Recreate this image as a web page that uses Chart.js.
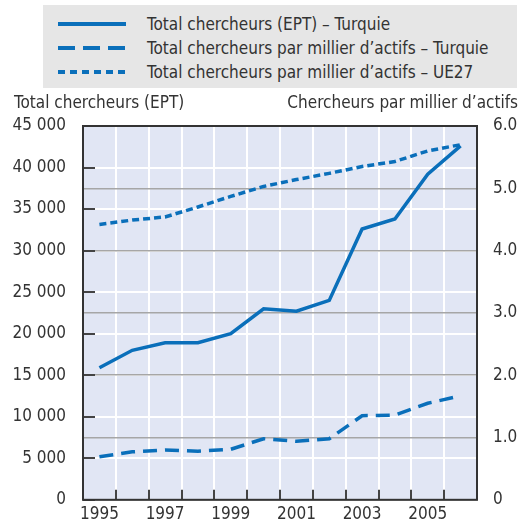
<!DOCTYPE html>
<html>
<head>
<meta charset="utf-8">
<script src="https://cdn.jsdelivr.net/npm/chart.js@4"></script>
<style>
  body { margin: 0; background: #fff; }
  #wrap { position: relative; width: 527px; height: 527px; }
  #legend {
    position: absolute; left: 43px; top: 5px; width: 474px; height: 83px;
    background: #e6e6e6; font-family: 'Liberation Sans Narrow', 'DejaVu Sans Condensed', sans-serif;
    font-size: 17px; color: #333;
  }
  .row { position: absolute; left: 0; height: 24px; line-height: 24px; }
  .row svg { position: absolute; left: 15px; top: 0; }
  .row span { position: absolute; left: 104px; white-space: nowrap; }
</style>
</head>
<body>
<div id="wrap">
  <canvas id="chart" width="527" height="527"></canvas>
  <div id="legend"></div>
</div>
<script>
const years = ["1995", "1996", "1997", "1998", "1999", "2000", "2001", "2002", "2003", "2004", "2005", "2006"];
const totalTurquie = [15900, 18000, 18900, 18900, 20000, 23000, 22700, 24000, 32600, 33800, 39200, 42600];
const parMillierTurquie = [0.69, 0.77, 0.80, 0.78, 0.81, 0.98, 0.94, 0.98, 1.35, 1.36, 1.55, 1.67];
const parMillierUE27 = [4.42, 4.49, 4.54, 4.70, 4.87, 5.03, 5.14, 5.24, 5.35, 5.43, 5.60, 5.70];

const leftTitle = "Total chercheurs (EPT)";
const rightTitle = "Chercheurs par millier d\u2019actifs";

const blue = "#0a6fba";
const font = "'Liberation Sans Narrow', 'DejaVu Sans Condensed', sans-serif";

Chart.defaults.font.family = font;
Chart.defaults.font.size = 17;
Chart.defaults.color = "#333";

function spaced(v) {
  return String(v).replace(/\B(?=(\d{3})+(?!\d))/g, " ");
}

const chartBox = {
  id: "chartBox",
  beforeDraw(chart) {
    const a = chart.chartArea;
    const ctx = chart.ctx;
    ctx.save();
    ctx.fillStyle = "#e1e6f4";
    ctx.fillRect(a.left, a.top, a.right - a.left, a.bottom - a.top);
    ctx.restore();
  },
  afterDraw(chart) {
    const a = chart.chartArea;
    const ctx = chart.ctx;
    const x = chart.scales.x;
    const y = chart.scales.y;
    ctx.save();
    ctx.strokeStyle = "#444";
    ctx.lineWidth = 2;
    // inward ticks on the left axis
    y.ticks.forEach((t, i) => {
      const py = Math.round(y.getPixelForTick(i));
      ctx.beginPath();
      ctx.moveTo(a.left, py);
      ctx.lineTo(a.left + 12, py);
      ctx.stroke();
    });
    // inward ticks on the bottom axis, between the years
    for (let i = 1; i < years.length; i++) {
      const px = Math.round((x.getPixelForTick(i - 1) + x.getPixelForTick(i)) / 2);
      ctx.beginPath();
      ctx.moveTo(px, a.bottom);
      ctx.lineTo(px, a.bottom - 10);
      ctx.stroke();
    }
    ctx.strokeStyle = "#333";
    ctx.strokeRect(a.left, a.top, a.right - a.left, a.bottom - a.top);
    // axis titles
    ctx.fillStyle = "#333";
    ctx.font = "17px " + font;
    ctx.textBaseline = "alphabetic";
    ctx.textAlign = "left";
    ctx.fillText(leftTitle, 14, 108);
    ctx.textAlign = "right";
    ctx.fillText(rightTitle, 518, 108);
    ctx.restore();
  }
};

const chart = new Chart(document.getElementById("chart"), {
  type: "line",
  data: {
    labels: years,
    datasets: [
      { label: "Total chercheurs (EPT) \u2013 Turquie", data: totalTurquie, yAxisID: "y", borderColor: blue, borderWidth: 3.5, pointRadius: 0, dash: [] },
      { label: "Total chercheurs par millier d\u2019actifs \u2013 Turquie", data: parMillierTurquie, yAxisID: "y2", borderColor: blue, borderWidth: 3.5, pointRadius: 0, borderDash: [14, 8], dash: [17, 8] },
      { label: "Total chercheurs par millier d\u2019actifs \u2013 UE27", data: parMillierUE27, yAxisID: "y2", borderColor: blue, borderWidth: 3.5, pointRadius: 0, borderDash: [7, 4], dash: [7, 5] },
    ],
  },
  options: {
    responsive: false,
    animation: false,
    layout: { padding: { top: 126, left: 0, right: 0, bottom: 0 } },
    plugins: { legend: { display: false }, tooltip: { enabled: false } },
    scales: {
      x: {
        offset: true,
        grid: { offset: true, color: "#fff", lineWidth: 2, drawTicks: false, z: -2 },
        border: { display: false },
        ticks: { autoSkip: false, maxRotation: 0, padding: 5, callback: (v, i) => (i % 2 === 0 ? years[i] : "") },
        afterFit: (s) => { s.height = 27; },
      },
      y: {
        position: "left",
        min: 0, max: 45000,
        grid: { color: "#fff", lineWidth: 2, drawTicks: false, z: -2 },
        border: { display: false },
        ticks: { stepSize: 5000, padding: 17, callback: (v) => spaced(v) },
        afterFit: (s) => { s.width = 83; },
      },
      y2: {
        position: "right",
        min: 0, max: 6,
        grid: { color: "#a6a6a6", lineWidth: 1.5, drawTicks: false, z: -1 },
        border: { display: false },
        ticks: { stepSize: 1, padding: 16, callback: (v) => (v === 0 ? "0" : v.toFixed(1)) },
        afterFit: (s) => { s.width = 50; },
      },
    },
  },
  plugins: [chartBox],
});

// legend built from the datasets
const legend = document.getElementById("legend");
chart.data.datasets.forEach((ds, i) => {
  const row = document.createElement("div");
  row.className = "row";
  row.style.top = (7 + i * 24) + "px";
  const dash = ds.dash.length ? ` stroke-dasharray="${ds.dash.join(" ")}"` : "";
  row.innerHTML = `<svg width="70" height="24"><line x1="0" y1="12" x2="68" y2="12" stroke="${ds.borderColor}" stroke-width="4"${dash}/></svg><span>${ds.label}</span>`;
  legend.appendChild(row);
});
</script>
</body>
</html>
